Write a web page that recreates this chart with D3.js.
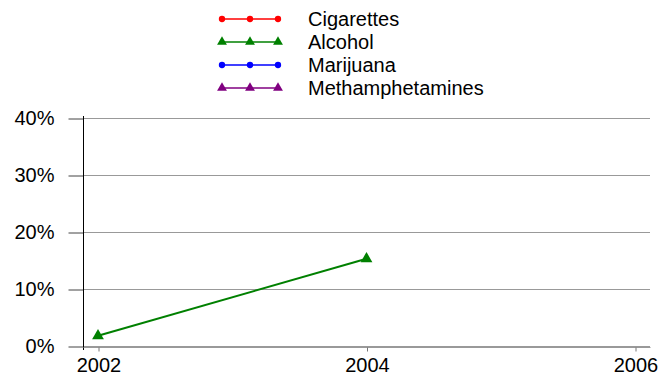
<!DOCTYPE html>
<meta charset="utf-8"/>
<style>
  body { margin: 0; background: #fff; }
  text { font-family: "Liberation Sans", Arial, sans-serif; fill: #000; }
  .grid line { stroke: #999; stroke-width: 1; }
</style>
<svg width="658" height="374"></svg>
<script src="https://d3js.org/d3.v7.min.js"></script>
<script>

  // data
  var years = [2002, 2004, 2006];
  var seriesNames = ["Cigarettes", "Alcohol", "Marijuana", "Methamphetamines"];
  var seriesColors = ["#ff0000", "#008000", "#0000ff", "#800080"];
  var seriesMarkers = ["circle", "triangle", "circle", "triangle"];
  var cigarettes = [null, null, null];
  var alcohol = [1.8, 15.3, null];
  var marijuana = [null, null, null];
  var methamphetamines = [null, null, null];
  var yTicks = [0, 10, 20, 30, 40];

  var allValues = [cigarettes, alcohol, marijuana, methamphetamines];

  var svg = d3.select("svg");

  var x = d3.scaleLinear().domain([2002, 2006]).range([98, 635]);
  var y = d3.scaleLinear().domain([0, 40]).range([346, 118]);

  // gridlines
  svg.append("g")
    .attr("class", "grid")
    .selectAll("line")
    .data(yTicks)
    .enter().append("line")
    .attr("x1", 83).attr("x2", 650)
    .attr("y1", function (d) { return y(d) + 0.5; })
    .attr("y2", function (d) { return y(d) + 0.5; });

  // y axis
  var yAxis = svg.append("g")
    .attr("transform", "translate(83.5,0.5)")
    .call(d3.axisLeft(y).tickValues(yTicks).tickSize(15).tickPadding(14)
      .tickFormat(function (d) { return d + "%"; }));
  yAxis.select(".domain").remove();
  yAxis.selectAll(".tick line").attr("stroke", "#444");
  yAxis.selectAll("text").style("font-size", "20px");
  svg.append("line")
    .attr("x1", 83.5).attr("x2", 83.5)
    .attr("y1", 116).attr("y2", 350)
    .attr("stroke", "#000");

  // x axis
  var xAxis = svg.append("g")
    .attr("transform", "translate(0.5,347.5)")
    .call(d3.axisBottom(x).tickValues(years).tickSize(4).tickPadding(6)
      .tickFormat(d3.format("d")));
  xAxis.select(".domain").attr("d", "M83,0H650").attr("stroke", "#999");
  xAxis.selectAll(".tick line").attr("stroke", "#777");
  xAxis.selectAll("text").style("font-size", "20px");

  function drawMarker(g, kind, color, cx, cy, size) {
    var sym = d3.symbol()
      .type(kind === "triangle" ? d3.symbolTriangle : d3.symbolCircle)
      .size(kind === "triangle" ? size : size * 0.75);
    g.append("path")
      .attr("d", sym())
      .attr("transform", "translate(" + cx + "," + cy + ")")
      .attr("fill", color);
  }

  // series
  var line = d3.line()
    .defined(function (d) { return d.v != null; })
    .x(function (d) { return x(d.year); })
    .y(function (d) { return y(d.v); });

  allValues.forEach(function (vals, i) {
    var pts = years.map(function (yr, j) { return { year: yr, v: vals[j] }; });
    var g = svg.append("g");
    g.append("path")
      .datum(pts)
      .attr("d", line)
      .attr("fill", "none")
      .attr("stroke", seriesColors[i])
      .attr("stroke-width", 2);
    pts.filter(function (d) { return d.v != null; }).forEach(function (d) {
      drawMarker(g, seriesMarkers[i], seriesColors[i], x(d.year), y(d.v), 60);
    });
  });

  // legend
  var legend = svg.append("g");
  seriesNames.forEach(function (name, i) {
    var ly = 19 + i * 23;
    var g = legend.append("g");
    g.append("line")
      .attr("x1", 222).attr("x2", 278)
      .attr("y1", ly).attr("y2", ly)
      .attr("stroke", seriesColors[i]).attr("stroke-width", 1.5);
    [222, 250, 278].forEach(function (mx) {
      drawMarker(g, seriesMarkers[i], seriesColors[i], mx, ly, 42);
    });
    g.append("text")
      .attr("x", 308).attr("y", ly + 7)
      .style("font-size", "20px")
      .text(name);
  });

</script>
